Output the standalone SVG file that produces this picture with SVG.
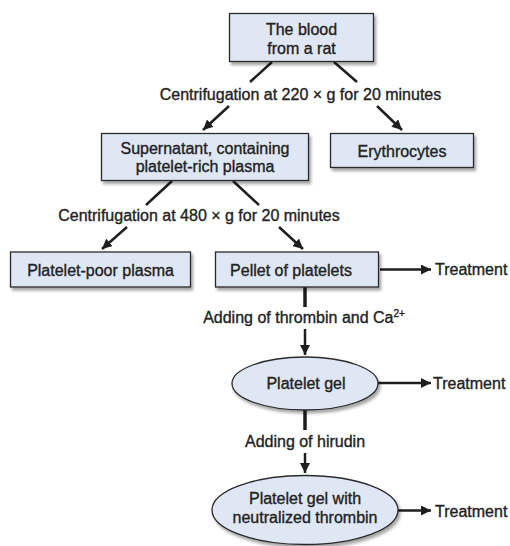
<svg xmlns="http://www.w3.org/2000/svg" width="510" height="546" viewBox="0 0 510 546">
<defs>
<filter id="sh" x="-10%" y="-20%" width="130%" height="150%">
<feDropShadow dx="2" dy="3" stdDeviation="1.8" flood-color="#000" flood-opacity="0.35"/>
</filter>
<marker id="ah" viewBox="0 0 10 10" refX="10" refY="5" markerWidth="10" markerHeight="10" markerUnits="userSpaceOnUse" orient="auto">
<path d="M0,0 L10,5 L0,10 Z" fill="#1e1e1e"/>
</marker>
<style>
.n{fill:#dfe6f4;stroke:#2a2a2a;stroke-width:1.3;filter:url(#sh)}
text{font-family:"Liberation Sans",Arial,sans-serif;font-size:16px;fill:#222;stroke:#222;stroke-width:0.35}
.m{text-anchor:middle}
.c{stroke:#1e1e1e;stroke-width:2.5;fill:none}
.a{marker-end:url(#ah)}
</style>
</defs>
<rect width="510" height="546" fill="#fff"/>
<g id="connectors">
<line class="c" x1="272" y1="62" x2="250" y2="82"/>
<line class="c a" x1="229" y1="106" x2="203" y2="130"/>
<line class="c" x1="334" y1="62" x2="357" y2="82"/>
<line class="c a" x1="377" y1="106" x2="402" y2="130"/>
<line class="c" x1="172" y1="181" x2="146" y2="205"/>
<line class="c a" x1="127" y1="227" x2="102" y2="249"/>
<line class="c" x1="233" y1="181" x2="259" y2="205"/>
<line class="c a" x1="279" y1="227" x2="303" y2="249"/>
<line class="c a" x1="380" y1="269.5" x2="431" y2="269.5"/>
<line class="c" x1="305" y1="287" x2="305" y2="307" style="stroke-width:3.5"/>
<line class="c a" x1="305" y1="329" x2="305" y2="355"/>
<line class="c a" x1="378" y1="383" x2="431" y2="383"/>
<line class="c" x1="305" y1="410" x2="305" y2="430" style="stroke-width:3.5"/>
<line class="c a" x1="305" y1="453" x2="305" y2="473"/>
<line class="c a" x1="398" y1="510.5" x2="431" y2="510.5"/>
<text class="m" x="300.5" y="100">Centrifugation at 220 × g for 20 minutes</text>
<text class="m" x="199" y="221">Centrifugation at 480 × g for 20 minutes</text>
<text class="m" x="304" y="323">Adding of thrombin and Ca<tspan font-size="10" dy="-6">2+</tspan></text>
<text class="m" x="305" y="447">Adding of hirudin</text>
<text x="435" y="275">Treatment</text>
<text x="433" y="389">Treatment</text>
<text x="435" y="517">Treatment</text>
</g>
<g id="blood">
<rect class="n" x="229.5" y="13.5" width="144" height="48"/>
<text class="m" x="301.5" y="35">The blood</text>
<text class="m" x="301.5" y="54">from a rat</text>
</g>
<g id="supernatant">
<rect class="n" x="101.5" y="133.5" width="207" height="47"/>
<text class="m" x="205" y="154">Supernatant, containing</text>
<text class="m" x="205" y="172">platelet-rich plasma</text>
</g>
<g id="erythrocytes">
<rect class="n" x="330.5" y="133.5" width="143" height="34"/>
<text class="m" x="402" y="156.5">Erythrocytes</text>
</g>
<g id="ppp">
<rect class="n" x="10.5" y="252" width="180" height="35"/>
<text class="m" x="100.5" y="275.5">Platelet-poor plasma</text>
</g>
<g id="pellet">
<rect class="n" x="215.5" y="252" width="163" height="35"/>
<text class="m" x="291" y="275.5">Pellet of platelets</text>
</g>
<g id="gel">
<ellipse class="n" cx="305" cy="383.5" rx="73" ry="26.5"/>
<text class="m" x="306" y="389">Platelet gel</text>
</g>
<g id="gel2">
<ellipse class="n" cx="305" cy="510" rx="93" ry="34.5"/>
<text class="m" x="305" y="504">Platelet gel with</text>
<text class="m" x="305" y="523">neutralized thrombin</text>
</g>
</svg>
